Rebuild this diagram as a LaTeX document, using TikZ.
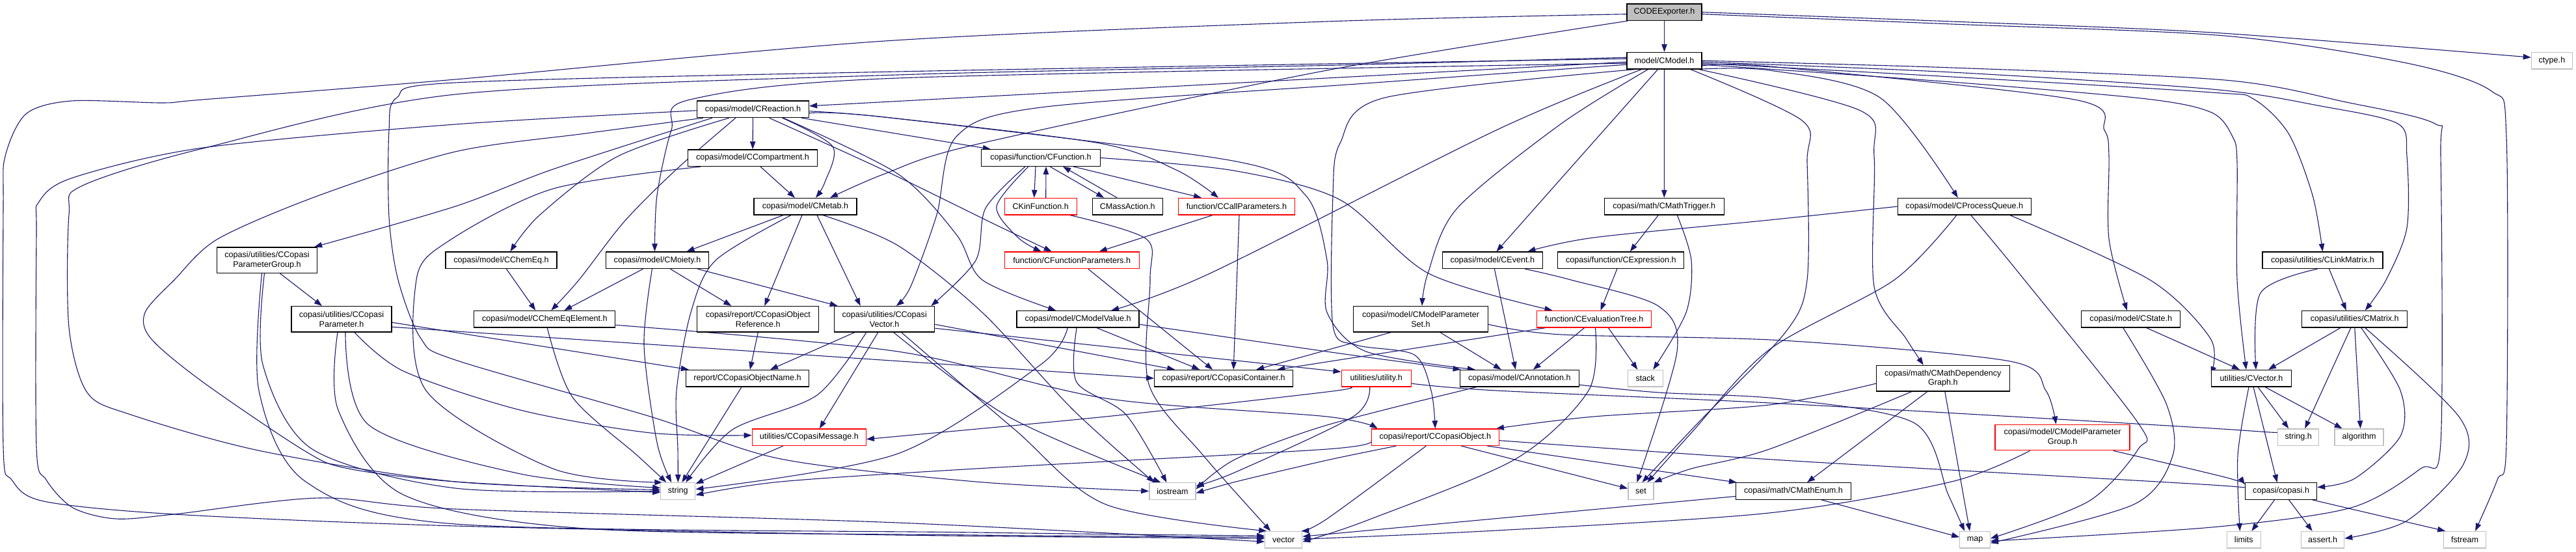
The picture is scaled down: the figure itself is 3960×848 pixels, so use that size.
\documentclass[tikz,border=0pt]{standalone}
\usepackage{fontspec}
\setmainfont{Liberation Sans}
\usetikzlibrary{arrows.meta}
\pgfdeclarelayer{bg}
\pgfsetlayers{bg,main}
\definecolor{eb}{RGB}{25,25,112}
\definecolor{gb}{RGB}{191,191,191}
\newcommand\nfont{\fontsize{12.6pt}{14.6pt}\selectfont}
\begin{document}
\begin{tikzpicture}[x=1pt,y=-1pt,
  bx/.style={draw=black,fill=white,line width=1.3pt,inner sep=0pt,minimum height=25.5pt,align=center,font=\nfont},
  rb/.style={bx,draw=red},
  gy/.style={bx,draw=gb},
  rt/.style={bx,fill=gb},
  tw/.style={minimum height=39.5pt},
  ed/.style={draw=eb,line width=1.1pt,-{Triangle[length=12pt,width=8.5pt]}}]
\useasboundingbox (0,0) rectangle (3960,848);
% nodes
\node[rt,minimum width=115pt] (E) at (2558.5,18.7) {CODEExporter.h};
\node[bx,minimum width=115pt] (M) at (2558.5,93.2) {model/CModel.h};
\node[gy,minimum width=63pt] (ct) at (3922.9,93.2) {ctype.h};
\node[bx,minimum width=172pt] (R) at (1157.5,167.8) {copasi/model/CReaction.h};
\node[bx,minimum width=199pt] (Cp) at (1157,242.7) {copasi/model/CCompartment.h};
\node[bx,minimum width=158pt] (Mt) at (1238,317.2) {copasi/model/CMetab.h};
\node[bx,minimum width=183pt] (F) at (1600,242.5) {copasi/function/CFunction.h};
\node[rb,minimum width=111pt] (KF) at (1599.7,317.2) {CKinFunction.h};
\node[bx,minimum width=108pt] (MA) at (1733.2,317.2) {CMassAction.h};
\node[rb,minimum width=179pt] (CP) at (1901,317.2) {function/CCallParameters.h};
\node[bx,minimum width=184pt] (MT) at (2558.3,317.2) {copasi/math/CMathTrigger.h};
\node[bx,minimum width=205pt] (PQ) at (3019.8,317.2) {copasi/model/CProcessQueue.h};
\node[bx,tw,minimum width=154pt] (PG) at (410.5,399.7) {copasi/utilities/CCopasi\\ParameterGroup.h};
\node[bx,minimum width=171pt] (CE) at (770.5,399.8) {copasi/model/CChemEq.h};
\node[bx,minimum width=158.5pt] (Mo) at (1010.5,399.8) {copasi/model/CMoiety.h};
\node[rb,minimum width=207pt] (FP) at (1647.7,399.8) {function/CFunctionParameters.h};
\node[bx,minimum width=153.5pt] (Ev) at (2294.4,399.8) {copasi/model/CEvent.h};
\node[bx,minimum width=194pt] (Ex) at (2491.8,399.8) {copasi/function/CExpression.h};
\node[bx,minimum width=185pt] (LM) at (3570.5,399.8) {copasi/utilities/CLinkMatrix.h};
\node[bx,tw,minimum width=154pt] (PAR) at (525,490.3) {copasi/utilities/CCopasi\\Parameter.h};
\node[bx,minimum width=217pt] (CEE) at (837.3,490.3) {copasi/model/CChemEqElement.h};
\node[bx,tw,minimum width=187pt] (OR) at (1165.3,490.3) {copasi/report/CCopasiObject\\Reference.h};
\node[bx,tw,minimum width=154pt] (CV) at (1359.7,490.3) {copasi/utilities/CCopasi\\Vector.h};
\node[bx,minimum width=188pt] (MV) at (1657.1,490.3) {copasi/model/CModelValue.h};
\node[bx,tw,minimum width=207pt] (MPS) at (2184,490.3) {copasi/model/CModelParameter\\Set.h};
\node[rb,minimum width=176pt] (ET) at (2450.5,490.3) {function/CEvaluationTree.h};
\node[bx,minimum width=152pt] (St) at (3275.8,490.3) {copasi/model/CState.h};
\node[bx,minimum width=162pt] (Mx) at (3619.8,490.3) {copasi/utilities/CMatrix.h};
\node[bx,minimum width=189pt] (ON) at (1149,581.2) {report/CCopasiObjectName.h};
\node[bx,minimum width=213pt] (CC) at (1881.2,581.2) {copasi/report/CCopasiContainer.h};
\node[rb,minimum width=107pt] (ut) at (2115.7,581.2) {utilities/utility.h};
\node[bx,minimum width=183pt] (An) at (2335.8,581.2) {copasi/model/CAnnotation.h};
\node[gy,minimum width=54pt] (stk) at (2529.3,581.2) {stack};
\node[bx,tw,minimum width=205pt] (MDG) at (2986.8,581.2) {copasi/math/CMathDependency\\Graph.h};
\node[bx,minimum width=123pt] (Vec) at (3461,581.2) {utilities/CVector.h};
\node[rb,minimum width=175pt] (Msg) at (1243.8,671.7) {utilities/CCopasiMessage.h};
\node[rb,minimum width=196pt] (CO) at (2206.3,671.7) {copasi/report/CCopasiObject.h};
\node[rb,tw,minimum width=207pt] (MPG) at (3170.6,672) {copasi/model/CModelParameter\\Group.h};
\node[gy,minimum width=63pt] (sh) at (3533.2,671.7) {string.h};
\node[gy,minimum width=75pt] (alg) at (3626.6,671.7) {algorithm};
\node[gy,minimum width=53pt] (str) at (1042.3,754.5) {string};
\node[gy,minimum width=71pt] (ios) at (1802.4,754.5) {iostream};
\node[gy,minimum width=39pt] (set) at (2522.4,754.5) {set};
\node[bx,minimum width=177pt] (ME) at (2757,754.5) {copasi/math/CMathEnum.h};
\node[bx,minimum width=110pt] (cop) at (3506.6,754.5) {copasi/copasi.h};
\node[gy,minimum width=57pt] (vec) at (1973.2,829.2) {vector};
\node[gy,minimum width=46.4pt] (map) at (3036,829.2) {map};
\node[gy,minimum width=52pt] (lim) at (3449.3,829.2) {limits};
\node[gy,minimum width=66pt] (as) at (3570.6,829.2) {assert.h};
\node[gy,minimum width=65pt] (fs) at (3789.1,829.2) {fstream};
\begin{pgfonlayer}{bg}
\fill[white] (0,0) rectangle (3960,848);
% E
\draw[ed] (E) -- (M);
\draw[ed] plot[smooth] coordinates {(E.east) (3000,33) (3400,50) ([yshift=5pt]ct.west)};
\draw[ed] plot[smooth] coordinates {([yshift=-3pt]E.east) (3000,37) (3420,55) (3700,97) (3830,140) (3853,210) (3853,680) (3839,737) ([xshift=16pt]fs.north)};
\draw[ed] plot[smooth] coordinates {([xshift=2pt]E.south west) (2040,108) (1500,222) (1360,267) ([xshift=38pt]Mt.north)};
\draw[ed] plot[smooth] coordinates {([yshift=-3pt]E.west) (2040,33) (1360,63) (700,122) (312,153) (250,158) (110,155) (40,175) (8,240) (5,320) (5,687) (18,737) (67,770) (268,790) (700,808) (1380,822) ([yshift=2pt]vec.west)};
% M
\draw[ed] ([yshift=-2pt]M.west) -- ([yshift=5pt]R.east);
\draw[ed] (M) -- (MT);
\draw[ed] ([xshift=-10pt]M.south) -- ([xshift=6pt]Ev.north);
\draw[ed] plot[smooth] coordinates {([yshift=-4pt]M.west) (1380,120) (1061,153) (1032,200) (1010,300) ([xshift=-4pt]Mo.north)};
\draw[ed] plot[smooth] coordinates {([xshift=-25pt]M.south) (2400,190) (2240,320) (2195,420) ([xshift=2pt]MPS.north)};
\draw[ed] plot[smooth] coordinates {([xshift=-35pt]M.south) (2300,200) (1860,420) ([xshift=51pt]MV.north)};
\draw[ed] plot[smooth] coordinates {([xshift=-45pt]M.south) (2129,150) (2060,220) (2049,300) (2049,500) (2085,530) (2174,545) (2200,600) (CO.north)};
\draw[ed] plot[smooth] coordinates {([yshift=-6pt]M.west) (2100,128) (1600,165) (1470,210) (1440,330) (1400,440) ([xshift=18pt]CV.north)};
\draw[ed] plot[smooth] coordinates {([yshift=5pt]M.west) (2060,100) (1380,115) (700,145) (312,228) (125,286) (106,330) (106,503) (134,603) (201,637) (402,693) (700,740) ([yshift=2pt]str.west)};
\draw[ed] plot[smooth] coordinates {([yshift=3pt]M.west) (1380,110) (700,127) (610,150) (598,200) (598,333) (612,430) (647,520) (700,553) (1000,640) (1200,705) (1500,740) (ios.west)};
\draw[ed] plot[smooth] coordinates {(M.east) (3000,104) (3420,123) (3607,157) (3743,190) (3752,240) (3752,680) (3721,720) (3614,780) (3400,810) ([yshift=-2pt]map.east)};
\draw[ed] plot[smooth] coordinates {([yshift=-2pt]M.east) (3000,111) (3400,137) (3568,163) (3686,190) (3700,240) (3700,350) (3668,430) ([xshift=16pt]Mx.north)};
\draw[ed] plot[smooth] coordinates {([yshift=-4pt]M.east) (3000,118) (3400,142) (3464,152) (3518,205) (3555,300) (LM.north)};
\draw[ed] plot[smooth] coordinates {([yshift=-6pt]M.east) (3000,126) (3300,152) (3400,173) (3432,210) (3439,250) (3439,430) ([xshift=-8pt]Vec.north)};
\draw[ed] plot[smooth] coordinates {([yshift=-8pt]M.east) (2720,102) (3189,153) (3235,200) (3242,240) (3242,367) ([xshift=-6pt]St.north)};
\draw[ed] plot[smooth] coordinates {([xshift=-5pt]M.south east) (2860,170) (2881,240) (2881,440) (2930,520) ([xshift=-30pt]MDG.north)};
\draw[ed] plot[smooth] coordinates {([xshift=-12pt]M.south east) (2720,108) (2890,150) ([xshift=-10pt]PQ.north)};
\draw[ed] plot[smooth] coordinates {([xshift=-18pt]M.south east) (2770,185) (2778,250) (2778,430) (2745,510) (2610,650) ([xshift=2pt]set.north)};
% R
\draw[ed] (R) -- (Cp);
\draw[ed] plot[smooth] coordinates {([xshift=45pt]R.south) (1280,225) (1268,280) ([xshift=16pt]Mt.north)};
\draw[ed] ([xshift=-12pt]R.south east) -- ([xshift=15pt]F.north west);
\draw[ed] plot[smooth] coordinates {([yshift=-3pt]R.east) (1360,180) (1690,220) (1810,262) ([xshift=-28pt]CP.north)};
\draw[ed] plot[smooth] coordinates {([xshift=25pt]R.south) (1360,262) (1530,345) ([xshift=-31pt]FP.north)};
\draw[ed] plot[smooth] coordinates {([xshift=24pt]R.south west) (850,260) (700,317) ([xshift=-5pt]PG.north east)};
\draw[ed] plot[smooth] coordinates {([xshift=50pt]R.south west) (950,240) (830,330) ([xshift=14pt]CE.north)};
\draw[ed] plot[smooth] coordinates {([xshift=60pt]R.south west) (1040,260) (960,340) (890,430) ([xshift=10pt]CEE.north)};
\draw[ed] plot[smooth] coordinates {([xshift=-40pt]R.south east) (1380,267) (1470,360) (1510,430) ([xshift=-34pt]MV.north)};
\draw[ed] plot[smooth] coordinates {([yshift=-6pt]R.east) (1360,180) (1895,247) (2007,300) (2040,400) (2040,480) (2100,540) ([xshift=-68pt]An.north)};
\draw[ed] plot[smooth] coordinates {([yshift=-2pt]R.west) (700,191) (312,227) (112,273) (60,310) (56,360) (56,687) (71,737) (112,780) (178,797) (268,790) (491,765) (700,782) (1380,803) ([yshift=-3pt]vec.west)};
\draw[ed] plot[smooth] coordinates {([xshift=10pt]R.south west) (900,205) (700,233) (491,300) (335,367) (268,430) (223,480) (232,520) (312,587) (469,693) (536,720) (700,740) ([yshift=-2pt]str.west)};
% Cp
\draw[ed] ([xshift=12pt]Cp.south) -- ([xshift=-16pt]Mt.north);
\draw[ed] plot[smooth] coordinates {([xshift=-80pt]Cp.south) (850,290) (690,370) (640,430) (655,600) (850,720) ([xshift=-24pt]str.north)};
% Mt
\draw[ed] ([xshift=-34pt]Mt.south) -- ([xshift=45pt]Mo.north);
\draw[ed] ([xshift=-5pt]Mt.south) -- ([xshift=10pt]OR.north);
\draw[ed] ([xshift=18pt]Mt.south) -- ([xshift=-37pt]CV.north);
\draw[ed] plot[smooth] coordinates {([xshift=-22pt]Mt.south) (1100,400) (1062,480) (1040,600) (1042,690) (str.north)};
\draw[ed] plot[smooth] coordinates {([xshift=27pt]Mt.south) (1380,377) (1510,480) (1650,630) ([xshift=-28pt]ios.north)};
% Mo
\draw[ed] ([xshift=-22pt]Mo.south) -- ([xshift=30pt]CEE.north);
\draw[ed] ([xshift=20pt]Mo.south) -- ([xshift=-41pt]OR.north);
\draw[ed] ([xshift=62pt]Mo.south) -- ([xshift=-72pt]CV.north);
\draw[ed] plot[smooth] coordinates {([xshift=-8pt]Mo.south) (990,530) (1010,680) ([xshift=-10pt]str.north)};
% CE, CEE
\draw[ed] ([xshift=8pt]CE.south) -- ([xshift=-14pt]CEE.north);
\draw[ed] plot[smooth] coordinates {([xshift=4pt]CEE.south) (880,610) (980,700) ([xshift=-18pt]str.north)};
\draw[ed] plot[smooth] coordinates {([yshift=-9pt]CEE.east) (1380,540) (1700,612) (2040,640) ([xshift=10pt]CO.north west)};
% OR, PAR, PG
\draw[ed] (OR.south) -- ([xshift=4pt]ON.north);
\draw[ed] ([yshift=-5pt]PAR.east) -- ([xshift=5pt]ON.north west);
\draw[ed] ([yshift=-12pt]PAR.east) -- (CC.west);
\draw[ed] plot[smooth] coordinates {([xshift=20pt]PAR.south) (620,570) (800,630) (1000,665) ([yshift=3pt]Msg.west)};
\draw[ed] plot[smooth] coordinates {([xshift=6pt]PAR.south) (567,653) (800,728) ([yshift=5pt]str.west)};
\draw[ed] plot[smooth] coordinates {([xshift=-6pt]PAR.south) (520,630) (620,760) (900,812) (1500,822) ([yshift=4pt]vec.west)};
\draw[ed] ([xshift=20pt]PG.south) -- ([xshift=-30pt]PAR.north);
\draw[ed] plot[smooth] coordinates {([xshift=-4pt]PG.south) (404,560) (480,690) (700,750) (str.west)};
\draw[ed] plot[smooth] coordinates {([xshift=-8pt]PG.south) (398,600) (470,740) (700,805) (1500,818) ([yshift=6pt]vec.west)};
% F
\draw[ed] ([xshift=-8pt]F.south) -- ([xshift=-10pt]KF.north);
\draw[ed] ([xshift=8pt]KF.north) -- ([xshift=8pt]F.south);
\draw[ed] ([xshift=14pt]F.south) -- ([xshift=-36pt]MA.north);
\draw[ed] ([xshift=-16pt]MA.north) -- ([xshift=34pt]F.south);
\draw[ed] ([xshift=50pt]F.south) -- ([xshift=-54pt]CP.north);
\draw[ed] plot[smooth] coordinates {([xshift=-19pt]F.south) (1532,317) (1565,365) ([xshift=-47pt]FP.north)};
\draw[ed] plot[smooth] coordinates {([xshift=-24pt]F.south) (1515,320) (1500,400) ([xshift=-6pt]CV.north east)};
\draw[ed] plot[smooth] coordinates {(F.east) (1896,262) (2060,307) (2196,420) ([xshift=-64pt]ET.north)};
\draw[ed] plot[smooth] coordinates {([xshift=45pt]KF.south) (1762,367) (1768,430) (1766,590) (1850,700) ([xshift=-20pt]vec.north)};
% CP, FP
\draw[ed] ([xshift=-37pt]CP.south) -- ([xshift=42pt]FP.north);
\draw[ed] ([xshift=4pt]CP.south) -- ([xshift=15pt]CC.north);
\draw[ed] ([xshift=25pt]FP.south) -- ([xshift=-17pt]CC.north);
% CV
\draw[ed] ([yshift=-8pt]CV.east) -- ([xshift=-75pt]CC.north);
\draw[ed] ([xshift=-46pt]CV.south) -- ([xshift=35pt]ON.north);
\draw[ed] ([xshift=-10pt]CV.south) -- ([xshift=16pt]Msg.north);
\draw[ed] plot[smooth] coordinates {([xshift=-28pt]CV.south) (1256,607) (1126,660) ([xshift=12pt]str.north)};
\draw[ed] plot[smooth] coordinates {([xshift=14pt]CV.south) (1550,640) ([xshift=-18pt]ios.north)};
\draw[ed] plot[smooth] coordinates {([xshift=26pt]CV.south) (1560,660) (1700,775) ([xshift=-26pt]vec.north)};
\draw[ed] ([yshift=-14pt]CV.east) -- ([yshift=10pt]ut.west);
% MV
\draw[ed] ([xshift=29pt]MV.south) -- ([xshift=-37pt]CC.north);
\draw[ed] plot[smooth] coordinates {([yshift=-8pt]MV.east) (2060,543) ([xshift=2pt]An.north west)};
\draw[ed] plot[smooth] coordinates {([xshift=-16pt]MV.south) (1600,560) (1380,697) ([yshift=3pt]str.east)};
\draw[ed] plot[smooth] coordinates {([xshift=-2pt]MV.south) (1655,587) (1731,637) ([xshift=-9pt]ios.north)};
% ON, Msg
\draw[ed] ([xshift=-9pt]ON.south) -- ([xshift=6pt]str.north);
\draw[ed] ([xshift=-40pt]Msg.south) -- ([yshift=-2pt]str.north east);
% MPS
\draw[ed] ([xshift=-46pt]MPS.south) -- ([xshift=50pt]CC.north);
\draw[ed] ([xshift=30pt]MPS.south) -- ([xshift=-28pt]An.north);
\draw[ed] plot[smooth] coordinates {([yshift=-8pt]MPS.east) (2400,514) (2740,523) (3090,555) (3145,600) ([xshift=-10pt]MPG.north)};
% Ev
\draw[ed] ([xshift=3pt]Ev.south) -- ([xshift=-6pt]An.north);
\draw[ed] plot[smooth] coordinates {([xshift=50pt]Ev.south) (2415,430) (2549,470) (2578,540) ([xshift=-6pt]set.north)};
% ET
\draw[ed] ([xshift=-15pt]ET.south) -- ([xshift=21pt]An.north);
\draw[ed] ([xshift=22pt]ET.south) -- ([xshift=-12pt]stk.north);
\draw[ed] ([xshift=-75pt]ET.south) -- ([xshift=82pt]CC.north);
\draw[ed] plot[smooth] coordinates {([xshift=2pt]ET.south) (2442,600) (2330,705) (2100,800) ([yshift=-3pt]vec.east)};
% Ex, MT
\draw[ed] ([xshift=-6pt]Ex.south) -- ([xshift=10pt]ET.north);
\draw[ed] ([xshift=-9pt]MT.south) -- ([xshift=14pt]Ex.north);
\draw[ed] plot[smooth] coordinates {([xshift=20pt]MT.south) (2600,400) (2592,480) ([xshift=12pt]stk.north)};
% PQ
\draw[ed] plot[smooth] coordinates {(PQ.west) (2720,338) (2450,365) ([xshift=54pt]Ev.north)};
\draw[ed] plot[smooth] coordinates {([xshift=-12pt]PQ.south) (2912,430) (2720,537) (2600,665) ([xshift=10pt]set.north)};
\draw[ed] plot[smooth] coordinates {([xshift=10pt]PQ.south) (3104,420) (3287,650) (3287,690) (3211,770) ([yshift=2pt]map.east)};
\draw[ed] plot[smooth] coordinates {([xshift=70pt]PQ.south) (3305,430) (3398,520) ([yshift=6pt]Vec.west)};
% St
\draw[ed] plot[smooth] coordinates {([xshift=24pt]St.south) (3370,535) ([xshift=-18pt]Vec.north)};
\draw[ed] plot[smooth] coordinates {([xshift=-12pt]St.south) (3330,620) (3340,700) (3280,775) ([yshift=-5pt]map.east)};
% LM
\draw[ed] plot[smooth] coordinates {([xshift=-8pt]LM.south) (3475,450) ([xshift=7pt]Vec.north)};
\draw[ed] ([xshift=10pt]LM.south) -- ([xshift=-13pt]Mx.north);
% Mx
\draw[ed] ([xshift=-22pt]Mx.south) -- ([xshift=26pt]Vec.north);
\draw[ed] ([xshift=-6pt]Mx.south) -- ([xshift=10pt]sh.north);
\draw[ed] (Mx.south) -- ([xshift=2pt]alg.north);
\draw[ed] plot[smooth] coordinates {([xshift=10pt]Mx.south) (3690,600) (3690,670) (3620,735) ([yshift=6pt]cop.east)};
\draw[ed] plot[smooth] coordinates {([xshift=16pt]Mx.south) (3780,640) (3787,713) (3700,800) ([yshift=2pt]as.east)};
% Vec
\draw[ed] plot[smooth] coordinates {([xshift=-4pt]Vec.south) (3440,700) ([xshift=-6pt]lim.north)};
\draw[ed] ([xshift=3pt]Vec.south) -- ([xshift=-6pt]cop.north);
\draw[ed] ([xshift=10pt]Vec.south) -- ([xshift=-15pt]sh.north);
\draw[ed] ([xshift=21pt]Vec.south) -- ([xshift=-26pt]alg.north);
% cop
\draw[ed] ([xshift=-10pt]cop.south) -- ([xshift=12pt]lim.north);
\draw[ed] ([xshift=12pt]cop.south) -- ([xshift=-16pt]as.north);
\draw[ed] ([xshift=48pt]cop.south) -- ([xshift=-30pt]fs.north);
% MPG
\draw[ed] plot[smooth] coordinates {([xshift=78pt]MPG.south) (3420,733) ([yshift=10pt]cop.west)};
\draw[ed] plot[smooth] coordinates {([xshift=-50pt]MPG.south) (3000,740) (2720,788) (2300,815) ([yshift=1pt]vec.east)};
% CO
\draw[ed] ([xshift=40pt]CO.south) -- ([yshift=4pt]set.west);
\draw[ed] plot[smooth] coordinates {([xshift=-14pt]CO.south) (2040,797) ([xshift=-2pt]vec.north east)};
\draw[ed] ([xshift=80pt]CO.south) -- ([xshift=2pt]ME.north west);
\draw[ed] plot[smooth] coordinates {([yshift=-5pt]CO.east) (2740,707) (3400,745) ([yshift=2pt]cop.west)};
\draw[ed] plot[smooth] coordinates {([xshift=-60pt]CO.south) (2040,707) (1900,740) ([yshift=-3pt]ios.east)};
\draw[ed] plot[smooth] coordinates {([yshift=-4pt]CO.west) (2040,690) (1500,720) (1200,740) ([yshift=-6pt]str.east)};
% An
\draw[ed] plot[smooth] coordinates {([xshift=-66pt]An.south) (2040,653) (1900,705) ([yshift=3pt]ios.east)};
\draw[ed] plot[smooth] coordinates {([yshift=-10pt]An.east) (2550,603) (2740,613) (2943,650) (2995,760) ([xshift=-16pt]map.north)};
% ut
\draw[ed] plot[smooth] coordinates {([xshift=-40pt]ut.south) (2040,602) (1700,640) ([yshift=-3pt]Msg.east)};
\draw[ed] plot[smooth] coordinates {([yshift=-8pt]ut.east) (2300,600) (2740,620) (3400,658) ([yshift=5pt]sh.west)};
\draw[ed] plot[smooth] coordinates {([xshift=-10pt]ut.south) (2080,640) (1900,725) ([yshift=8pt]ios.east)};
% MDG
\draw[ed] ([xshift=3pt]MDG.south) -- ([xshift=-8pt]map.north);
\draw[ed] ([xshift=-24pt]MDG.south) -- ([xshift=21pt]ME.north);
\draw[ed] plot[smooth] coordinates {([xshift=-48pt]MDG.south) (2720,690) (2600,720) (set.north east)};
\draw[ed] plot[smooth] coordinates {([yshift=-8pt]MDG.west) (2720,622) (2450,640) ([xshift=-5pt]CO.north east)};
% ME
\draw[ed] ([xshift=43pt]ME.south) -- ([yshift=4pt]map.west);
\draw[ed] ([yshift=-8pt]ME.west) -- ([yshift=5pt]vec.east);
\end{pgfonlayer}
\end{tikzpicture}
\end{document}
